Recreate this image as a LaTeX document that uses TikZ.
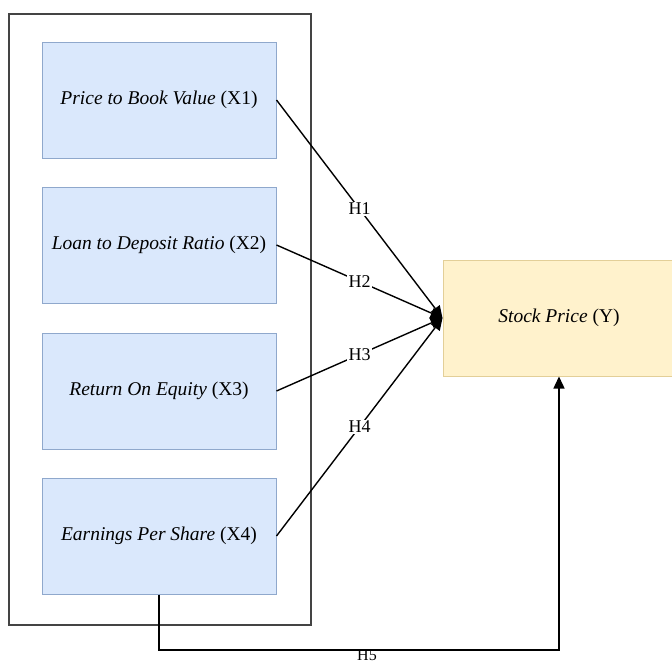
\documentclass[tikz,border=0pt]{standalone}
\usepackage{fontspec}
\setmainfont{Liberation Serif}[ItalicFont={Liberation Serif Italic}]
\usetikzlibrary{arrows.meta}
\definecolor{bfill}{HTML}{DAE8FC}
\definecolor{bdraw}{HTML}{8FA8CC}
\definecolor{yfill}{HTML}{FFF2CC}
\definecolor{ydraw}{HTML}{E3CF98}
\definecolor{odraw}{HTML}{444444}
\begin{document}
\begin{tikzpicture}[x=1pt,y=-1pt,
  varbox/.style={draw=bdraw, fill=bfill, line width=1pt, minimum width=234pt, minimum height=116pt, inner sep=0pt, font=\fontsize{19.5}{23}\selectfont},
  ybox/.style={draw=ydraw, fill=yfill, line width=1pt, minimum width=232pt, minimum height=116pt, inner sep=0pt, font=\fontsize{19.5}{23}\selectfont},
  arr/.style={draw=black, line width=1.4pt, -{Triangle[length=12pt,width=11pt]}},
  lbl/.style={fill=white, inner sep=1.5pt, font=\fontsize{18}{21}\selectfont}
]
\useasboundingbox (0,0) rectangle (672,664);
\node[draw=odraw, line width=1.5pt, minimum width=302pt, minimum height=611pt, anchor=north west, inner sep=0pt] (outer) at (8,13) {};
\node[varbox] (b1) at (159,100) {\textit{Price to Book Value} (X1)};
\node[varbox] (b2) at (159,245) {\textit{Loan to Deposit Ratio} (X2)};
\node[varbox] (b3) at (159,391) {\textit{Return On Equity} (X3)};
\node[varbox] (b4) at (159,536) {\textit{Earnings Per Share} (X4)};
\node[ybox] (sp) at (559,318) {\textit{Stock Price} (Y)};
\draw[arr] (b1.east) -- node[lbl, pos=0.5]{H1} (sp.west);
\draw[arr] (b2.east) -- node[lbl, pos=0.5]{H2} (sp.west);
\draw[arr] (b3.east) -- node[lbl, pos=0.5]{H3} (sp.west);
\draw[arr] (b4.east) -- node[lbl, pos=0.5]{H4} (sp.west);
\coordinate (c5) at (159,650);
\draw[arr] (b4.south) -- (c5) -| node[pos=0.26, anchor=north, inner sep=0pt, yshift=0.5pt, font=\fontsize{16}{19}\selectfont]{H5} (sp.south);
\end{tikzpicture}
\end{document}
